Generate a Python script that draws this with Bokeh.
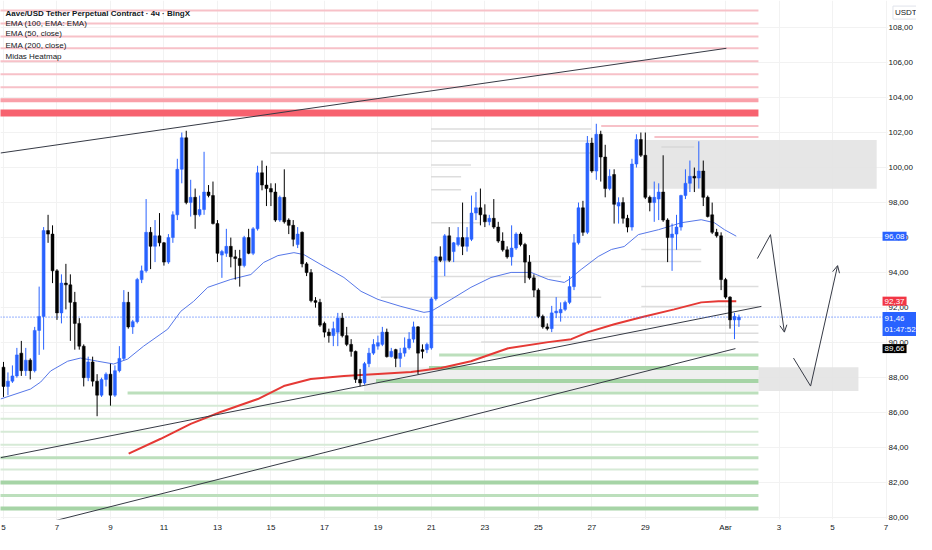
from bokeh.plotting import figure
from bokeh.models import Range1d, FixedTicker, Label, Arrow, OpenHead, ColumnDataSource
from bokeh.embed import file_html
from bokeh.resources import INLINE

# ---------------- data ----------------
# 4h candles, first candle 5 July 00:00 (x axis in "day of July")
start_day = 5.0
step_day = 4.0 / 24.0

opens = [88.6, 87.5, 87.8, 88.1, 89.4, 88.4, 89.0, 88.4, 90.7, 91.5,
         96.4, 96.2, 94.1, 91.7, 93.4, 93.3, 92.3, 91.1, 89.8, 88.0,
         88.9, 87.8, 87.0, 87.9, 88.2, 87.0, 88.4, 89.1, 92.3, 90.9,
         91.2, 93.6, 94.1, 96.3, 95.5, 96.1, 95.7, 94.6, 96.0, 97.3,
         99.9, 101.7, 98.0, 98.3, 97.3, 97.6, 98.6, 98.4, 96.8, 95.0,
         95.1, 95.5, 94.9, 94.8, 94.4, 96.0, 95.1, 96.5, 99.7, 99.0,
         98.8, 98.6, 97.0, 98.3, 97.0, 96.7, 95.6, 96.3, 94.5, 94.0,
         92.4, 92.3, 91.1, 90.6, 90.4, 90.6, 91.4, 90.4, 89.9, 89.5,
         87.9, 87.7, 88.8, 89.4, 89.8, 89.9, 90.6, 89.2, 89.6, 89.1,
         89.4, 89.7, 90.2, 90.9, 89.6, 89.6, 89.7, 92.5, 94.9, 94.7,
         96.1, 95.2, 95.6, 96.0, 95.5, 95.9, 97.4, 97.7, 97.3, 96.9,
         97.1, 96.6, 95.8, 95.3, 94.9, 95.4, 96.2, 95.6, 94.6, 93.7,
         93.0, 91.5, 90.9, 90.8, 91.7, 91.7, 91.9, 92.3, 93.2, 95.7,
         97.7, 96.3, 101.4, 99.8, 101.9, 100.6, 98.8, 99.6, 97.8, 98.0,
         97.1, 96.6, 100.2, 101.6, 100.7, 98.3, 98.0, 98.2, 98.6, 97.0,
         96.0, 96.2, 96.6, 98.4, 99.1, 99.5, 99.4, 99.8, 98.3, 97.3,
         96.3, 96.1, 93.6, 92.6, 91.3, 91.3]
highs = [88.9, 88.3, 88.7, 89.7, 90.1, 89.7, 89.1, 90.9, 93.2, 96.6,
         97.3, 96.7, 94.2, 93.9, 94.5, 93.9, 92.9, 91.4, 89.9, 89.2,
         89.2, 88.2, 88.0, 88.3, 88.8, 88.7, 89.8, 93.0, 92.9, 91.3,
         93.7, 94.4, 98.2, 96.6, 97.0, 97.4, 95.75, 96.2, 97.5, 100.5,
         102.0, 102.1, 99.3, 98.8, 98.4, 100.9, 99.0, 99.2, 97.0, 95.3,
         96.5, 96.0, 95.3, 95.3, 96.1, 96.5, 96.6, 100.1, 100.4, 100.1,
         99.1, 99.1, 98.4, 99.9, 97.1, 97.0, 96.6, 96.35, 94.6, 94.2,
         92.6, 92.5, 91.2, 90.8, 91.2, 91.7, 91.7, 90.9, 90.2, 89.55,
         88.5, 88.9, 89.7, 90.2, 90.4, 90.9, 90.8, 89.7, 89.65, 89.7,
         90.3, 90.6, 91.2, 90.95, 89.9, 90.0, 92.6, 94.95, 95.5, 96.2,
         96.6, 95.75, 96.6, 98.0, 96.6, 98.4, 98.6, 98.8, 97.9, 97.3,
         98.2, 96.9, 96.3, 95.5, 96.7, 96.3, 96.3, 95.7, 95.0, 93.9,
         93.1, 91.6, 91.1, 92.1, 92.6, 92.3, 92.4, 93.8, 96.2, 98.0,
         98.1, 101.8, 101.7, 102.5, 102.1, 101.3, 99.9, 99.9, 98.3, 98.3,
         97.3, 100.5, 101.9, 102.0, 102.0, 98.4, 99.2, 99.1, 100.7, 97.1,
         96.8, 97.3, 98.45, 99.9, 100.4, 100.0, 101.5, 100.4, 98.4, 98.0,
         96.5, 96.3, 93.7, 92.65, 91.7, 91.6]
lows = [86.9, 87.0, 87.7, 88.0, 88.1, 88.1, 87.9, 88.3, 89.3, 89.6,
        95.7, 93.4, 91.3, 91.1, 91.9, 90.1, 89.6, 89.6, 87.5, 87.8,
        87.5, 85.8, 86.9, 87.5, 86.4, 86.9, 88.3, 89.0, 90.8, 90.5,
        91.1, 93.4, 94.0, 94.2, 94.6, 95.5, 94.4, 94.5, 95.7, 97.0,
        99.1, 97.9, 97.2, 96.5, 97.2, 97.3, 98.3, 96.75, 94.6, 93.7,
        94.9, 94.3, 93.6, 93.2, 94.3, 95.05, 95.0, 96.4, 98.7, 97.8,
        97.8, 96.9, 96.9, 96.8, 96.2, 95.5, 95.4, 94.3, 93.8, 92.3,
        92.0, 90.9, 90.3, 90.0, 89.8, 89.8, 90.3, 89.8, 89.2, 87.7,
        87.5, 87.6, 88.6, 89.3, 89.6, 89.8, 89.15, 89.15, 88.6, 88.6,
        89.2, 89.6, 90.0, 88.2, 89.1, 89.4, 89.6, 92.4, 94.6, 93.8,
        94.6, 94.6, 95.5, 95.0, 95.2, 95.8, 97.0, 96.7, 96.6, 96.7,
        96.5, 95.7, 95.2, 94.8, 94.4, 95.3, 95.5, 93.4, 93.6, 92.6,
        91.4, 90.8, 90.7, 90.6, 91.4, 91.2, 91.8, 92.2, 93.0, 95.6,
        96.1, 96.2, 99.7, 99.3, 99.2, 98.3, 98.7, 96.8, 96.8, 96.8,
        96.3, 96.4, 100.0, 100.6, 98.2, 97.5, 96.9, 97.0, 96.9, 94.6,
        94.1, 95.3, 96.4, 98.2, 98.6, 98.6, 98.8, 97.8, 97.15, 96.2,
        96.0, 93.0, 92.5, 90.8, 90.2, 90.9]
closes = [87.5, 87.8, 88.1, 89.3, 88.4, 89.0, 88.4, 90.7, 91.5, 96.4,
          96.2, 94.1, 91.7, 93.4, 93.3, 92.3, 91.1, 89.8, 88.0, 88.9,
          87.8, 87.0, 87.9, 88.2, 87.0, 88.4, 89.1, 92.3, 90.9, 91.2,
          93.6, 94.1, 96.3, 95.5, 96.1, 95.7, 94.6, 96.0, 97.3, 99.9,
          101.7, 98.0, 98.3, 97.3, 97.6, 98.6, 98.4, 96.8, 95.1, 95.2,
          95.5, 94.9, 94.8, 94.4, 96.0, 95.1, 96.5, 99.7, 99.0, 98.8,
          98.6, 97.0, 98.3, 96.9, 96.7, 95.9, 96.2, 94.5, 94.0, 92.4,
          92.3, 91.0, 90.6, 90.4, 90.8, 91.4, 90.4, 89.9, 89.5, 87.9,
          87.7, 88.8, 89.4, 89.9, 90.0, 90.6, 89.2, 89.5, 89.1, 89.4,
          89.7, 90.2, 90.9, 89.4, 89.5, 89.9, 92.5, 94.9, 94.7, 96.1,
          94.7, 95.7, 96.0, 95.5, 96.0, 97.4, 97.7, 97.3, 96.9, 97.1,
          96.6, 95.8, 95.3, 94.9, 95.4, 96.2, 95.6, 94.6, 93.7, 93.0,
          91.5, 90.9, 90.8, 91.7, 91.8, 91.9, 92.3, 93.2, 95.7, 97.7,
          96.3, 101.4, 99.8, 101.9, 100.6, 98.8, 99.5, 97.9, 98.0, 97.1,
          96.6, 100.2, 101.6, 100.7, 98.3, 98.0, 98.3, 98.6, 97.0, 96.0,
          96.2, 96.6, 98.4, 99.1, 99.5, 99.4, 99.8, 98.3, 97.2, 96.3,
          96.1, 93.6, 92.6, 91.3, 91.5, 91.46]

# EMA 50 (blue)
ema50_x = [4.89, 6.01, 6.39, 6.76, 7.40, 7.88, 8.52, 9.12, 9.64, 10.24, 11.14, 11.63,
           12.11, 12.64, 13.50, 14.25, 14.73, 15.26, 15.86, 16.23, 16.87, 17.73, 18.37,
           19.00, 19.86, 20.72, 20.99, 21.74, 22.48, 23.23, 23.98, 24.73, 25.37, 25.97,
           26.15, 26.60, 27.24, 27.73, 28.21, 28.74, 29.49, 30.35, 31.09, 31.58, 31.96, 32.40]
ema50_y = [86.78, 87.35, 87.75, 88.38, 88.94, 89.12, 88.94, 88.78, 89.06, 89.80, 90.77, 91.79,
           92.36, 93.16, 93.61, 93.89, 94.58, 94.97, 95.14, 95.03, 94.46, 93.72, 92.93,
           92.47, 92.07, 91.73, 91.79, 92.47, 93.16, 93.72, 94.01, 94.01, 93.61, 93.44,
           93.61, 94.18, 94.92, 95.32, 95.49, 96.17, 96.45, 96.85, 97.02, 96.85, 96.45, 96.08]
# EMA 200 (red)
ema200_x = [9.68, 10.88, 12.00, 13.12, 14.51, 15.48, 16.49, 17.73, 19.00, 20.24, 21.36,
            22.48, 23.87, 25.37, 26.23, 26.86, 27.84, 28.85, 30.08, 31.09, 31.73, 32.40]
ema200_y = [83.66, 84.51, 85.36, 86.04, 86.78, 87.52, 87.92, 88.09, 88.21, 88.32, 88.55,
            88.94, 89.68, 90.03, 90.20, 90.60, 91.05, 91.45, 91.90, 92.30, 92.36, 92.37]

# trend lines
trend_upper_x = [4.89, 32.03]
trend_upper_y = [100.83, 106.81]
trend_mid_x = [4.89, 33.34]
trend_mid_y = [83.43, 92.07]
trend_low_x = [5.94, 32.37]
trend_low_y = [79.45, 89.66]

# drawn projection arrows
arrow1_x = [33.19, 33.68, 34.20]
arrow1_y = [94.80, 96.17, 90.60]
arrow2_x = [34.54, 35.18, 36.19]
arrow2_y = [89.12, 87.52, 94.40]

# zones (left, right, bottom, top)
zone_upper = [28.96, 37.65, 98.79, 101.57]
zone_lower = [33.23, 36.97, 87.24, 88.60]
zone_band = [18.48, 33.23, 87.24, 88.60]

# heatmap levels
level_start = 4.80
level_end = 33.23
red_thin_levels = [108.97, 108.23, 107.49, 106.81, 106.07, 105.33, 104.59]
red_mid_levels = [103.85]
red_thick_levels = [103.11]
red_short_levels = [102.37, 101.74]
red_short_start = [27.35, 29.34]
green_thick_levels = [88.55, 87.81, 82.01, 80.53]
green_thick_start = [20.91, 18.93, 4.80, 4.80]
green_mid_levels = [89.29, 87.13, 83.43, 81.27]
green_mid_start = [21.29, 9.64, 4.80, 4.80]
green_light_levels = [86.39, 85.65, 84.91, 84.17, 82.75]
gray_levels = [102.20, 101.52, 100.83, 101.17, 100.15, 99.47, 98.73, 96.85, 95.32, 94.63,
               93.78, 93.21, 92.59, 92.07, 91.00, 90.54, 90.03]
gray_start = [20.99, 20.99, 14.99, 29.60, 20.99, 20.99, 20.99, 20.99, 28.85, 20.99,
              20.99, 28.85, 19.11, 28.85, 20.99, 17.24, 22.86]
gray_end = [26.98, 26.98, 26.98, 30.83, 22.48, 22.11, 22.11, 22.86, 31.09, 31.09,
            25.85, 33.23, 27.35, 33.23, 33.23, 33.23, 33.23]

last_price = 91.46
countdown = "01:47:52"
tags = [("96,08", 96.08, "#2962ff"),
        ("92,37", 92.37, "#f23645"),
        ("89,66", 89.66, "#000000")]

x_ticks = [5, 7, 9, 11, 13, 15, 17, 19, 21, 23, 25, 27, 29, 32, 34, 36, 38]
x_tick_labels = ["5", "7", "9", "11", "13", "15", "17", "19", "21", "23", "25", "27", "29",
                 "Авг", "3", "5", "7"]
y_ticks = list(range(80, 109, 2))
y_tick_labels = ["%d,00" % v for v in y_ticks]

legend_lines = ["Aave/USD Tether Perpetual Contract · 4ч · BingX",
                "EMA (100, EMA: EMA)", "EMA (50, close)", "EMA (200, close)", "Midas Heatmap"]
legend_y = [108.82, 108.25, 107.63, 106.95, 106.33]

# ---------------- figure ----------------
FONT = "Liberation Sans"
X0, X1 = 4.888, 39.14          # frame spans the whole width; price scale drawn at its right end
Y0, Y1 = 79.90, 109.54
SCALE_X = 38.06                 # left edge of the price-scale strip
TAG_X = 37.87                   # left edge of the price tags

p = figure(width=916, height=534, x_range=Range1d(X0, X1), y_range=Range1d(Y0, Y1),
           output_backend="svg", toolbar_location=None, y_axis_location="right",
           min_border_left=0, min_border_top=0, min_border_right=0, min_border_bottom=13)
p.outline_line_color = None
p.background_fill_color = "white"
p.xgrid.grid_line_color = "#f2f2f2"
p.ygrid.grid_line_color = "#f2f2f2"

p.xaxis.ticker = FixedTicker(ticks=x_ticks)
p.xaxis.major_label_overrides = dict(zip(x_ticks, x_tick_labels))
p.yaxis.ticker = FixedTicker(ticks=y_ticks)
p.yaxis.major_label_overrides = dict(zip(y_ticks, y_tick_labels))
for ax in (p.xaxis, p.yaxis):
    ax.axis_line_color = None
    ax.major_tick_line_color = None
    ax.minor_tick_line_color = None
    ax.major_tick_out = 0
    ax.major_tick_in = 0
    ax.major_label_text_font = FONT
    ax.major_label_text_font_size = "8px"
    ax.major_label_text_color = "#131722"
p.yaxis.major_label_standoff = -28
p.xaxis.major_label_standoff = 3

# zones
for z, col in ((zone_band, "#ededed"), (zone_upper, "#e3e3e3"), (zone_lower, "#e3e3e3")):
    p.quad(left=[z[0]], right=[z[1]], bottom=[z[2]], top=[z[3]], fill_color=col,
           line_color=None, fill_alpha=0.9)

# heatmap level lines
def hlines(levels, starts, ends, color, width, alpha=1.0):
    p.segment(x0=starts, y0=levels, x1=ends, y1=levels, line_color=color,
              line_width=width, line_alpha=alpha)

hlines(gray_levels, gray_start, gray_end, "#d4d4d4", 1.5, 0.8)
hlines(red_thin_levels, [level_start] * len(red_thin_levels), [level_end] * len(red_thin_levels), "#f7c1c8", 2)
hlines(red_short_levels, red_short_start, [level_end] * 2, "#f7c1c8", 2)
hlines(red_mid_levels, [level_start], [level_end], "#f9a0a9", 4)
hlines(red_thick_levels, [level_start], [level_end], "#f7626f", 7)
hlines(green_light_levels, [level_start] * len(green_light_levels), [level_end] * len(green_light_levels), "#d6ead6", 2)
hlines(green_mid_levels, green_mid_start, [level_end] * len(green_mid_levels), "#bcdfbc", 3)
hlines(green_thick_levels, green_thick_start, [level_end] * len(green_thick_levels), "#a6d4a6", 4)

# EMA lines
p.line(ema200_x, ema200_y, line_color="#e53935", line_width=2)
p.line(ema50_x, ema50_y, line_color="#5677e8", line_width=1)

# trend lines
for tx, ty in ((trend_upper_x, trend_upper_y), (trend_mid_x, trend_mid_y), (trend_low_x, trend_low_y)):
    p.line(tx, ty, line_color="#363a45", line_width=1)

# current price dotted line
p.segment(x0=[X0], y0=[last_price], x1=[SCALE_X], y1=[last_price], line_color="#2962ff",
          line_dash="1 2", line_width=1)

# candles
n = len(opens)
t = [start_day + i * step_day for i in range(n)]
colors = ["#2962ff" if c >= o else "#000000" for o, c in zip(opens, closes)]
src = ColumnDataSource(dict(t=t, h=highs, l=lows,
                            top=[max(o, c) for o, c in zip(opens, closes)],
                            bottom=[min(o, c) for o, c in zip(opens, closes)],
                            color=colors))
p.segment(x0="t", y0="h", x1="t", y1="l", source=src, line_color="color", line_width=1)
p.vbar(x="t", width=0.11, top="top", bottom="bottom", source=src,
       fill_color="color", line_color="color", line_width=0.5)

# projection arrows
for ax_, ay_ in ((arrow1_x, arrow1_y), (arrow2_x, arrow2_y)):
    p.line(ax_[:2], ay_[:2], line_color="#363a45", line_width=1)
    p.add_layout(Arrow(end=OpenHead(size=7, line_color="#363a45", line_width=1),
                       x_start=ax_[1], y_start=ay_[1], x_end=ax_[2], y_end=ay_[2],
                       line_color="#363a45", line_width=1))

# white price-scale strip (axis labels are drawn over it)
p.quad(left=[SCALE_X], right=[X1 + 1], bottom=[Y0 - 1], top=[Y1 + 1],
       fill_color="white", line_color=None)

# legend texts
for i, (txt, yy) in enumerate(zip(legend_lines, legend_y)):
    p.add_layout(Label(x=5.075, y=yy, text=txt, text_font=FONT, text_font_size="8px",
                       text_color="#131722", text_baseline="middle",
                       text_font_style="bold" if i == 0 else "normal"))

# price tags on the scale
for txt, yy, bg in tags:
    p.add_layout(Label(x=TAG_X, y=yy, text=txt, text_font=FONT, text_font_size="8px",
                       text_color="white", background_fill_color=bg, text_baseline="middle",
                       padding=2))
p.add_layout(Label(x=TAG_X, y=last_price, y_offset=5, text="91,46\n" + countdown,
                   text_font=FONT, text_font_size="8px", text_color="white",
                   background_fill_color="#2962ff", text_baseline="top", padding=2))
p.add_layout(Label(x=38.26, y=108.85, text="USDT", text_font=FONT,
                   text_font_size="8px", text_color="#131722", text_baseline="middle",
                   border_line_color="#e0e3eb", padding=2))

open("out.html", "w").write(file_html(p, INLINE))
